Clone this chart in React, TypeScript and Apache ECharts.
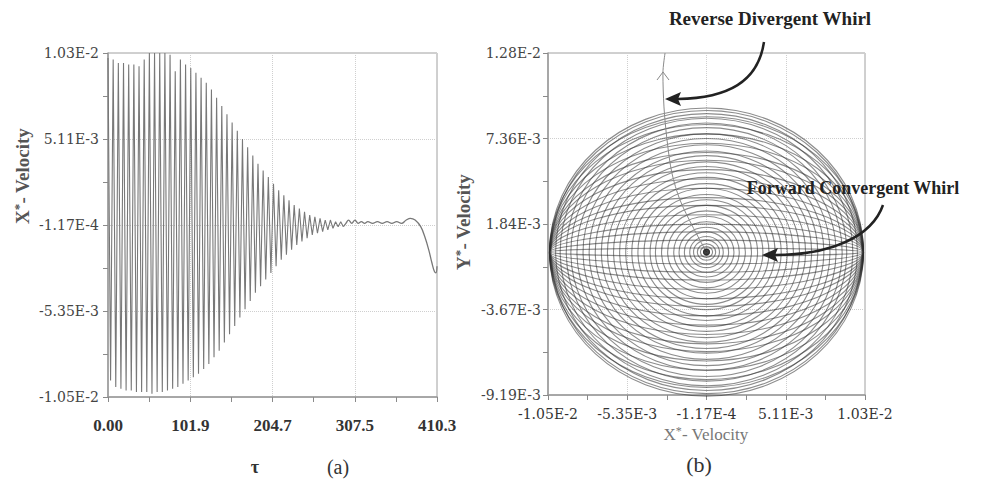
import React, { useEffect, useRef } from "react";
import * as echarts from "echarts";

// ---------- Panel (a): X*-velocity vs tau ----------
const tauTicks = [0, 102.575, 205.15, 307.725, 410.3];
const tauTickLabels = ["0.00", "101.9", "204.7", "307.5", "410.3"];
const tauAllTicks = [0, 51.2875, 102.575, 153.8625, 205.15, 256.4375, 307.725, 359.0125, 410.3];

const velTicks = [-0.0105, -0.0053, -0.0001, 0.0051, 0.0103];
const velTickLabels = ["-1.05E-2", "-5.35E-3", "-1.17E-4", "5.11E-3", "1.03E-2"];
const velAllTicks = [-0.0105, -0.0079, -0.0053, -0.0027, -0.0001, 0.0025, 0.0051, 0.0077, 0.0103];

const yVelTicks = [-0.00919, -0.0036925, 0.001805, 0.0073025, 0.0128];
const yVelTickLabels = ["-9.19E-3", "-3.67E-3", "1.84E-3", "7.36E-3", "1.28E-2"];
const yVelAllTicks = [-0.00919, -0.00644375, -0.0036925, -0.00094375, 0.001805, 0.00455375, 0.0073025, 0.01005125, 0.0128];

// one oscillation cycle every tauPeriod: maxima and minima read per cycle
const tauPeriod = 6.45;
const upperPeaks = [
  0.0100, 0.0099, 0.0097, 0.0097, 0.0096, 0.0096, 0.0095, 0.0099, 0.0103, 0.0103,
  0.0103, 0.0103, 0.0102, 0.0092, 0.0099, 0.0096, 0.0094, 0.0091, 0.0088, 0.0085,
  0.0081, 0.0076, 0.0071, 0.0066, 0.0061, 0.0056, 0.0051, 0.0046, 0.0041, 0.0036,
  0.0032, 0.0028, 0.0024, 0.0020, 0.0017, 0.0014, 0.0011, 0.0009, 0.0007, 0.0005,
  0.0004, 0.0003, 0.0002, 0.0002, 0.0001, 0.0001,
];
const lowerPeaks = [
  -0.0095, -0.0099, -0.0100, -0.0101, -0.0101, -0.0102, -0.0102, -0.0102, -0.0103, -0.0102,
  -0.0102, -0.0101, -0.0100, -0.0099, -0.0097, -0.0095, -0.0093, -0.0091, -0.0088, -0.0085,
  -0.0081, -0.0077, -0.0072, -0.0067, -0.0062, -0.0057, -0.0052, -0.0047, -0.0042, -0.0038,
  -0.0034, -0.0030, -0.0026, -0.0022, -0.0019, -0.0016, -0.0013, -0.0011, -0.0009, -0.0007,
  -0.0006, -0.0005, -0.0004, -0.0003, -0.0002, -0.0002,
];
const tailTau = [293.5, 296.7, 300, 304, 308, 312, 316, 320, 324, 330, 336, 342, 348, 354, 360, 366, 372, 377, 383, 390, 395, 400, 404, 407, 409, 410.3];
const tailVel = [
  -0.0002, 0.0000, 0.0002, 0.0000, 0.0002, 0.0000, 0.0001, 0.0000, 0.0001, 0.0000,
  0.0001, 0.0000, 0.0001, 0.0000, 0.0001, 0.0000, 0.0002, 0.0003, 0.0002, -0.0002,
  -0.0008, -0.0016, -0.0024, -0.0029, -0.0030, -0.0026,
];

// ---------- Panel (b): orbit ----------
const orbitCenter = [-0.0001, 0.0];
const spiralRx = [
  0.0002, 0.0004, 0.0006, 0.00085, 0.0011, 0.00145, 0.0018, 0.00215, 0.00255, 0.00295,
  0.00335, 0.0037, 0.0041, 0.0045, 0.0049, 0.0053, 0.0057, 0.0061, 0.0065, 0.0069,
  0.0073, 0.0077, 0.0081, 0.0085, 0.0089, 0.0092, 0.0096, 0.0099, 0.0102, 0.0103,
];
const spiralRy = [
  0.00018, 0.00035, 0.00053, 0.00077, 0.001, 0.0013, 0.0016, 0.00195, 0.0023, 0.00265,
  0.003, 0.00336, 0.0037, 0.0041, 0.0044, 0.0048, 0.0051, 0.0055, 0.0058, 0.0062,
  0.0065, 0.0069, 0.0073, 0.0076, 0.008, 0.0083, 0.0086, 0.0089, 0.0091, 0.00926,
];
const flatRx = 0.0103;
const flatRy = [
  0.00026, 0.00077, 0.0013, 0.0018, 0.0024, 0.003, 0.0035, 0.0041, 0.0047, 0.0053,
  0.0059, 0.0064, 0.007, 0.0076, 0.0082, 0.0087,
];
const reverseX = [-0.0001, -0.00099, -0.00184, -0.00237, -0.00269, -0.00289, -0.00296, -0.00282];
const reverseY = [0.0, 0.00161, 0.00335, 0.00508, 0.00721, 0.00933, 0.01151, 0.0128];

const SERIF = "'Liberation Serif', 'Times New Roman', serif";
const WIDE_SERIF = "'DejaVu Serif', serif";

function nearestLabel(v: number, ticks: number[], labels: string[]) {
  let best = 0;
  let bd = Infinity;
  ticks.forEach((t, i) => {
    const d = Math.abs(t - v);
    if (d < bd) {
      bd = d;
      best = i;
    }
  });
  return labels[best];
}

function axisPair(
  gridIndex: number,
  position: string,
  min: number,
  max: number,
  allTicks: number[],
  ticks: number[],
  labels: string[],
  labelStyle: any,
  margin: number
) {
  const tickAxis = {
    type: "value",
    gridIndex,
    position,
    min,
    max,
    axisLine: { show: true, onZero: false, lineStyle: { color: "#9a9a9a", width: 1.5 } },
    axisTick: { show: true, inside: false, length: 5, customValues: allTicks, lineStyle: { color: "#8a8a8a", width: 1 } },
    axisLabel: { show: false },
    splitLine: { show: false },
  };
  const labelAxis = {
    type: "value",
    gridIndex,
    position,
    min,
    max,
    axisLine: { show: false, onZero: false },
    axisTick: { show: false, customValues: ticks },
    axisLabel: {
      show: true,
      customValues: ticks,
      margin,
      formatter: (v: number) => nearestLabel(v, ticks, labels),
      ...labelStyle,
    },
    splitLine: { show: true, lineStyle: { color: "#cfcfcf", type: "dotted", width: 1 } },
  };
  return [tickAxis, labelAxis];
}

export default function App() {
  const ref = useRef<HTMLDivElement>(null);

  useEffect(() => {
    if (!ref.current) return;
    const chart = echarts.init(ref.current, null, { renderer: "svg" });

    const oscData: number[][] = [];
    upperPeaks.forEach((u, i) => {
      oscData.push([i * tauPeriod, u]);
      oscData.push([i * tauPeriod + tauPeriod / 2, lowerPeaks[i]]);
    });
    const tailData = tailTau.map((t, i) => [t, tailVel[i]]);

    const ringData: number[][] = [];
    spiralRx.forEach((rx, i) => ringData.push([orbitCenter[0], orbitCenter[1], rx, spiralRy[i]]));
    flatRy.forEach((ry) => ringData.push([orbitCenter[0], orbitCenter[1], flatRx, ry]));
    const reverseData = reverseX.map((x, i) => [x, reverseY[i]]);

    const yLabelStyle = { fontFamily: WIDE_SERIF, fontSize: 14, color: "#444" };
    const xLabelStyleA = { fontFamily: SERIF, fontSize: 17, fontWeight: "bold", color: "#333" };
    const xLabelStyleB = { fontFamily: WIDE_SERIF, fontSize: 14, color: "#333" };

    const [ax0, ax1] = axisPair(0, "bottom", 0, 410.3, tauAllTicks, tauTicks, tauTickLabels, xLabelStyleA, 20);
    const [ay0, ay1] = axisPair(0, "left", -0.0105, 0.0103, velAllTicks, velTicks, velTickLabels, yLabelStyle, 9);
    const [bx0, bx1] = axisPair(1, "bottom", -0.0105, 0.0103, velAllTicks, velTicks, velTickLabels, xLabelStyleB, 12);
    const [by0, by1] = axisPair(1, "left", -0.00919, 0.0128, yVelAllTicks, yVelTicks, yVelTickLabels, yLabelStyle, 7);

    const titleRich = (size: number, color: string, weight: string) => ({
      n: { fontFamily: SERIF, fontSize: size, fontWeight: weight, fill: color, lineHeight: size + 2 },
      s: { fontFamily: SERIF, fontSize: Math.round(size * 0.7), fontWeight: weight, fill: color, verticalAlign: "top", lineHeight: size + 2 },
    });

    const annotationFont = { fontFamily: SERIF, fontWeight: "bold", fill: "#222" };

    chart.setOption({
      animation: false,
      backgroundColor: "#ffffff",
      grid: [
        { left: 108, top: 53, width: 329, height: 344, show: true, borderColor: "#a0a0a0", borderWidth: 1, containLabel: false },
        { left: 548, top: 53, width: 317, height: 342, show: true, borderColor: "#a0a0a0", borderWidth: 1, containLabel: false },
      ],
      xAxis: [ax0, ax1, bx0, bx1],
      yAxis: [ay0, ay1, by0, by1],
      series: [
        {
          type: "line",
          xAxisIndex: 0,
          yAxisIndex: 0,
          data: oscData,
          symbol: "none",
          lineStyle: { color: "#787878", width: 1.1 },
          z: 3,
        },
        {
          type: "line",
          xAxisIndex: 0,
          yAxisIndex: 0,
          data: tailData,
          symbol: "none",
          smooth: 0.4,
          lineStyle: { color: "#787878", width: 1.3 },
          z: 3,
        },
        {
          type: "custom",
          xAxisIndex: 2,
          yAxisIndex: 2,
          data: ringData,
          encode: { x: 0, y: 1 },
          renderItem: (params: any, api: any) => {
            const cx = api.value(0);
            const cy = api.value(1);
            const rx = api.value(2);
            const ry = api.value(3);
            const c = api.coord([cx, cy]);
            const e = api.coord([cx + rx, cy - ry]);
            return {
              type: "ellipse",
              shape: { cx: c[0], cy: c[1], rx: Math.abs(e[0] - c[0]), ry: Math.abs(e[1] - c[1]) },
              style: { fill: "none", stroke: "rgba(45,45,45,0.55)", lineWidth: 1.1 },
            };
          },
          z: 3,
        },
        {
          type: "line",
          xAxisIndex: 2,
          yAxisIndex: 2,
          data: reverseData,
          symbol: "none",
          smooth: 0.3,
          lineStyle: { color: "#8a8a8a", width: 1 },
          z: 4,
        },
        {
          type: "scatter",
          xAxisIndex: 2,
          yAxisIndex: 2,
          data: [orbitCenter],
          symbolSize: 7,
          itemStyle: { color: "#111" },
          z: 5,
        },
      ],
      graphic: [
        // axis titles
        {
          type: "text",
          x: 22,
          y: 176,
          rotation: Math.PI / 2,
          z: 100,
          style: { text: "{n|X}{s|*}{n|- Velocity}", rich: titleRich(19, "#555", "bold"), align: "center", verticalAlign: "middle" },
        },
        {
          type: "text",
          x: 463,
          y: 222,
          rotation: Math.PI / 2,
          z: 100,
          style: { text: "{n|Y}{s|*}{n|- Velocity}", rich: titleRich(19, "#555", "bold"), align: "center", verticalAlign: "middle" },
        },
        {
          type: "text",
          x: 706,
          y: 434,
          z: 100,
          style: { text: "{n|X}{s|*}{n|- Velocity}", rich: titleRich(17, "#777", "normal"), align: "center", verticalAlign: "middle" },
        },
        {
          type: "text",
          x: 255,
          y: 467,
          z: 100,
          style: { text: "τ", fontFamily: SERIF, fontSize: 18, fontWeight: "bold", fill: "#333", align: "center", verticalAlign: "middle" },
        },
        {
          type: "text",
          x: 338,
          y: 467,
          z: 100,
          style: { text: "(a)", fontFamily: SERIF, fontSize: 20, fill: "#333", align: "center", verticalAlign: "middle" },
        },
        {
          type: "text",
          x: 699,
          y: 464,
          z: 100,
          style: { text: "(b)", fontFamily: SERIF, fontSize: 22, fill: "#333", align: "center", verticalAlign: "middle" },
        },
        // annotations
        {
          type: "text",
          x: 770,
          y: 18,
          z: 100,
          style: { text: "Reverse Divergent Whirl", ...annotationFont, fontSize: 19, align: "center", verticalAlign: "middle" },
        },
        {
          type: "bezierCurve",
          z: 100,
          shape: { x1: 764, y1: 42, cpx1: 758, cpy1: 82, cpx2: 728, cpy2: 98, x2: 678, y2: 99 },
          style: { stroke: "#222", lineWidth: 2.5, fill: "none" },
        },
        {
          type: "polygon",
          z: 100,
          shape: { points: [[665, 99], [681, 92], [678, 99], [681, 106]] },
          style: { fill: "#222" },
        },
        {
          type: "text",
          x: 853,
          y: 188,
          z: 100,
          style: { text: "Forward Convergent Whirl", ...annotationFont, fontSize: 18, align: "center", verticalAlign: "middle" },
        },
        {
          type: "bezierCurve",
          z: 100,
          shape: { x1: 883, y1: 205, cpx1: 872, cpy1: 237, cpx2: 830, cpy2: 255, x2: 775, y2: 255 },
          style: { stroke: "#222", lineWidth: 2.5, fill: "none" },
        },
        {
          type: "polygon",
          z: 100,
          shape: { points: [[762, 255], [778, 248], [775, 255], [778, 262]] },
          style: { fill: "#222" },
        },
        {
          type: "polyline",
          z: 100,
          shape: { points: [[657, 80], [663, 72], [669, 80]] },
          style: { stroke: "#888", lineWidth: 1, fill: "none" },
        },
      ],
    });

    return () => chart.dispose();
  }, []);

  return <div ref={ref} style={{ position: "fixed", left: 0, top: 0, width: 985, height: 484, background: "#fff" }} />;
}
